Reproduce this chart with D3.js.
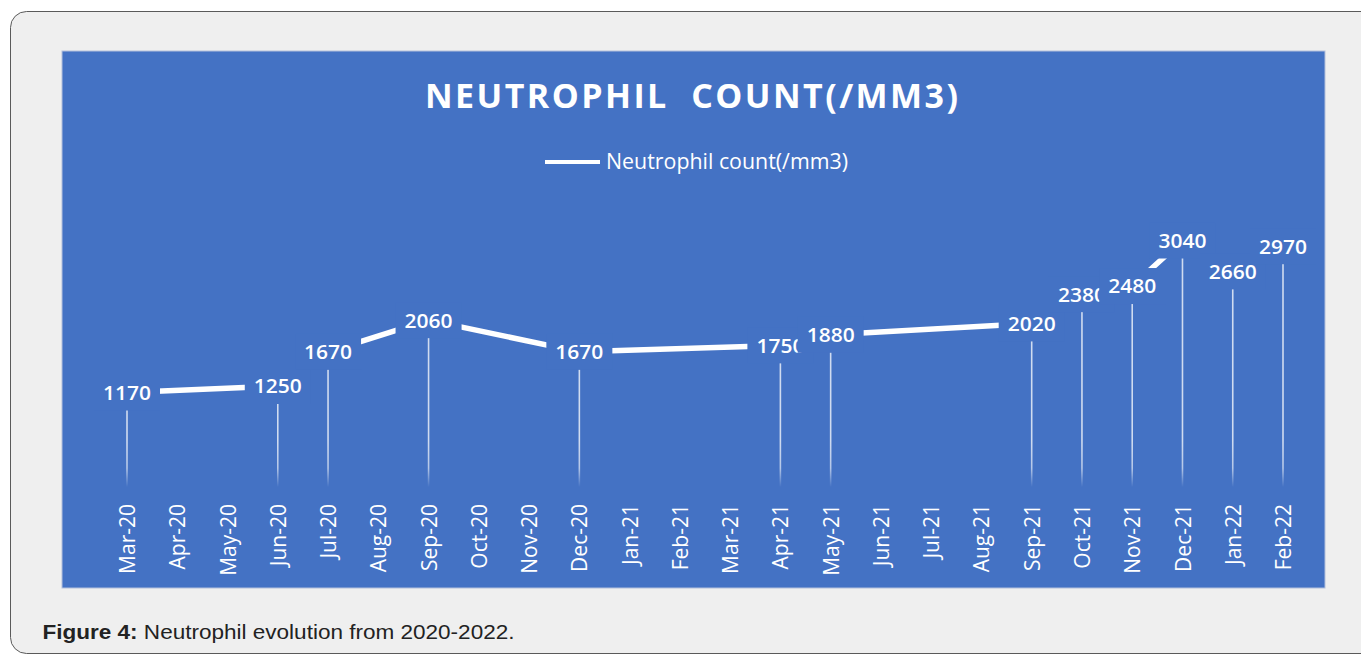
<!DOCTYPE html>
<html>
<head>
<meta charset="utf-8">
<script src="https://cdn.jsdelivr.net/npm/d3@7"></script>
<style>
  html, body { margin: 0; padding: 0; background: #ffffff; }
  svg { display: block; }
</style>
</head>
<body>
<svg id="chart" width="1361" height="655"></svg>
<script>
// ---- data ----
const months = ["Mar-20","Apr-20","May-20","Jun-20","Jul-20","Aug-20","Sep-20","Oct-20","Nov-20","Dec-20",
  "Jan-21","Feb-21","Mar-21","Apr-21","May-21","Jun-21","Jul-21","Aug-21","Sep-21","Oct-21","Nov-21","Dec-21",
  "Jan-22","Feb-22"];
const pointMonths = ["Mar-20","Jun-20","Jul-20","Sep-20","Dec-20","Apr-21","May-21","Sep-21","Oct-21","Nov-21","Dec-21","Jan-22","Feb-22"];
const values = [1170,1250,1670,2060,1670,1750,1880,2020,2380,2480,3040,2660,2970];
const seriesName = "Neutrophil count(/mm3)";
const titleText = "NEUTROPHIL\u00a0\u00a0COUNT(/MM3)";

const data = pointMonths.map((m, i) => ({ month: m, value: values[i] }));

const svg = d3.select("#chart");
const blue = "#4472C4";

// card
svg.append("rect").attr("x", 10.5).attr("y", 11.5).attr("width", 1420).attr("height", 642)
  .attr("rx", 16).attr("fill", "#efefef").attr("stroke", "#5a5a5a").attr("stroke-width", 1);

// chart area
svg.append("rect").attr("x", 62).attr("y", 51).attr("width", 1263).attr("height", 537)
  .attr("fill", blue).attr("stroke", "#b3c0dc").attr("stroke-width", 1);

// scales
const x = d3.scalePoint().domain(months).range([127, 1283]);
const y = d3.scaleLinear().domain([0, 3500]).range([487.6, 487.6 - 3500 * 0.08128]);

// gradient for drop lines
const defs = svg.append("defs");
const grad = defs.append("linearGradient").attr("id", "dropGrad")
  .attr("gradientUnits", "userSpaceOnUse").attr("x1", 0).attr("x2", 0).attr("y1", 440).attr("y2", 487);
grad.append("stop").attr("offset", "0%").attr("stop-color", "#ffffff").attr("stop-opacity", 0.75);
grad.append("stop").attr("offset", "60%").attr("stop-color", "#ffffff").attr("stop-opacity", 0.6);
grad.append("stop").attr("offset", "100%").attr("stop-color", "#ffffff").attr("stop-opacity", 0);

// title
svg.append("text").attr("x", 691.5).attr("y", 108).attr("text-anchor", "middle")
  .attr("font-family", "'Open Sans', sans-serif").attr("font-weight", 700).attr("font-size", 34)
  .attr("fill", "#ffffff").attr("textLength", 533).attr("lengthAdjust", "spacing")
  .text(titleText);

// legend
svg.append("line").attr("x1", 545).attr("x2", 600).attr("y1", 162).attr("y2", 162)
  .attr("stroke", "#ffffff").attr("stroke-width", 4);
svg.append("text").attr("x", 606).attr("y", 169)
  .attr("font-family", "'Open Sans', sans-serif").attr("font-size", 21)
  .attr("fill", "#ffffff").attr("textLength", 242).attr("lengthAdjust", "spacingAndGlyphs")
  .text(seriesName);

// x axis
const axisY = 486;
const axis = svg.append("g").attr("transform", `translate(0,${axisY})`)
  .call(d3.axisBottom(x).tickSize(0));
axis.select(".domain").remove();
axis.selectAll("text")
  .attr("transform", "rotate(-90)")
  .attr("text-anchor", "end")
  .attr("x", -18).attr("y", 0).attr("dy", "0.36em")
  .attr("font-family", "'Open Sans', sans-serif").attr("font-size", 21)
  .attr("fill", "#ffffff");

// drop lines
svg.append("g").selectAll("line").data(data).join("line")
  .attr("x1", d => x(d.month)).attr("x2", d => x(d.month))
  .attr("y1", d => y(d.value)).attr("y2", y(0))
  .attr("stroke", "url(#dropGrad)").attr("stroke-width", 1.6);

// series line
const line = d3.line().x(d => x(d.month)).y(d => y(d.value));
svg.append("path").datum(data).attr("d", line)
  .attr("fill", "none").attr("stroke", "#ffffff").attr("stroke-width", 5.5)
  .attr("stroke-linejoin", "round");

// data labels (background boxes hide the line behind them)
const labels = svg.append("g");
data.forEach(d => {
  const g = labels.append("g").attr("transform", `translate(${x(d.month)},${y(d.value)})`);
  g.append("rect").attr("x", -33).attr("y", -18).attr("width", 66).attr("height", 36).attr("fill", blue);
  g.append("text").attr("text-anchor", "middle").attr("dy", "0.36em")
    .attr("font-family", "'Open Sans', sans-serif").attr("font-weight", 600).attr("font-size", 20.5)
    .attr("fill", "#ffffff").attr("textLength", 48).attr("lengthAdjust", "spacingAndGlyphs")
    .text(d3.format("d")(d.value));
});

// caption
const cap = svg.append("text").attr("x", 42.5).attr("y", 639)
  .attr("font-family", "'Liberation Sans', Arial, sans-serif").attr("font-size", 19.5)
  .attr("fill", "#222222").attr("textLength", 472).attr("lengthAdjust", "spacingAndGlyphs");
cap.append("tspan").attr("font-weight", 700).text("Figure 4:");
cap.append("tspan").text(" Neutrophil evolution from 2020-2022.");
</script>
</body>
</html>
